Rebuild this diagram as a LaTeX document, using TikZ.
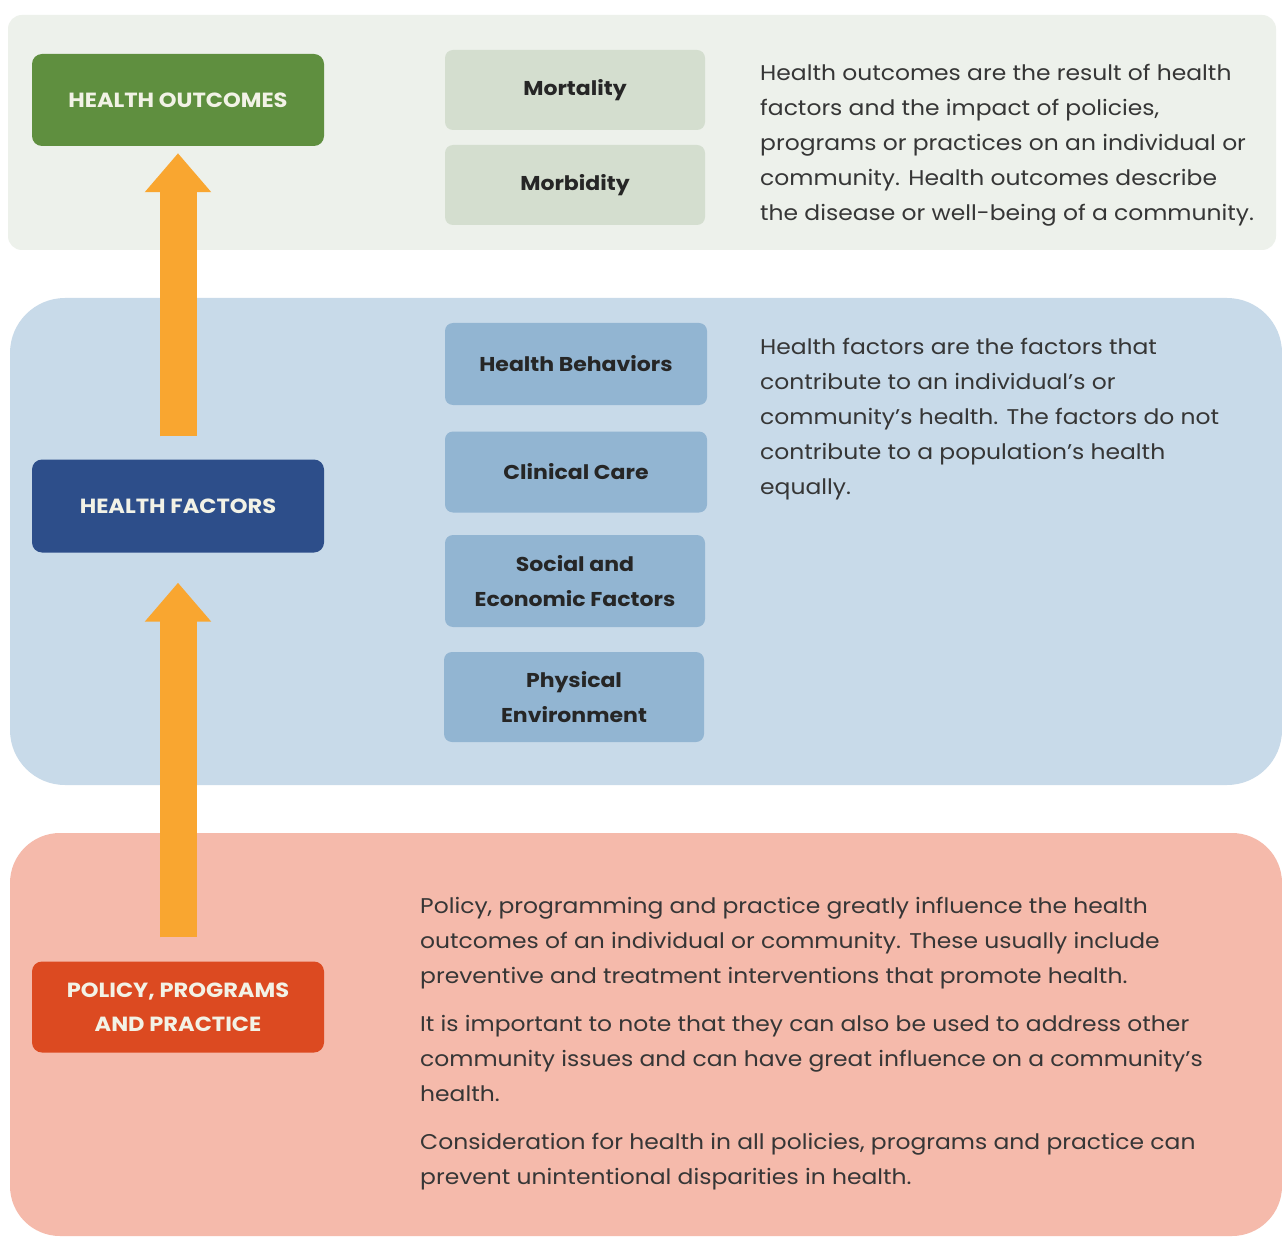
\documentclass[tikz,border=0pt]{standalone}
\usepackage{fontspec}
\setmainfont[FakeStretch=1.1]{Poppins}
\usetikzlibrary{arrows.meta}
\definecolor{topbg}{HTML}{EDF1EB}
\definecolor{hogreen}{HTML}{5F8F3F}
\definecolor{greenbox}{HTML}{D4DECF}
\definecolor{bluebg}{HTML}{C8DAE9}
\definecolor{hfblue}{HTML}{2D4E8A}
\definecolor{bluebox}{HTML}{92B5D2}
\definecolor{pinkbg}{HTML}{F5BAAB}
\definecolor{ppred}{HTML}{DC4A21}
\definecolor{arrorange}{HTML}{F9A630}
\definecolor{bodytext}{HTML}{363636}
\definecolor{titletext}{HTML}{F2F2E6}
\tikzset{
  titlebox/.style={rounded corners=10pt, minimum width=292pt, align=center,
    text=titletext, font=\fontsize{20.5}{34}\selectfont\bfseries, inner sep=0pt},
  itembox/.style={rounded corners=8pt, minimum width=260pt, align=center,
    text=black!85, font=\fontsize{20}{35}\selectfont\bfseries, inner sep=0pt},
  bodynode/.style={anchor=base west, inner sep=0pt, text=bodytext,
    font=\fontsize{21.3}{35}\selectfont},
  bigarrow/.style={draw=arrorange, line width=37pt,
    -{Triangle[length=39pt,width=64pt]}}
}
\begin{document}
\begin{tikzpicture}[x=1pt,y=-1pt]
\useasboundingbox[fill=white] (0,0) rectangle (1282,1238);
% panels
\fill[topbg, rounded corners=14pt] (8,15) rectangle (1276,250);
\fill[bluebg, rounded corners=55pt] (10,298) rectangle (1282,785);
\fill[pinkbg, rounded corners=50pt] (10,833) rectangle (1282,1236);
% title boxes
\node[titlebox, fill=hogreen, minimum height=92pt] (ho) at (178,100) {HEALTH OUTCOMES};
\node[titlebox, fill=hfblue, minimum height=93pt] (hf) at (178,506) {HEALTH FACTORS};
\node[titlebox, fill=ppred, minimum height=91pt] (pp) at (178,1007) {POLICY, PROGRAMS\\AND PRACTICE};
% item boxes
\node[itembox, fill=greenbox, minimum height=80pt] (mort) at (575,90) {Mortality};
\node[itembox, fill=greenbox, minimum height=80pt] (morb) at (575,185) {Morbidity};
\node[itembox, fill=bluebox, minimum width=262pt, minimum height=82pt] (hb) at (576,364) {Health Behaviors};
\node[itembox, fill=bluebox, minimum width=262pt, minimum height=81pt] (cc) at (576,472) {Clinical Care};
\node[itembox, fill=bluebox, minimum height=92pt] (se) at (575,581) {Social and\\Economic Factors};
\node[itembox, fill=bluebox, minimum height=90pt] (pe) at (574,697) {Physical\\Environment};
% arrows
\draw[bigarrow] ([yshift=23pt]hf.north) -- ([yshift=-7pt]ho.south);
\draw[bigarrow] ([yshift=24pt]pp.north) -- ([yshift=-30pt]hf.south);
% body texts
\node[bodynode] (t1) at (760,81) {\parbox[t]{520pt}{\raggedright
Health outcomes are the result of health\\
factors and the impact of policies,\\
programs or practices on an individual or\\
community. Health outcomes describe\\
the disease or well-being of a community.}};
\node[bodynode] (t2) at (760,355) {\parbox[t]{520pt}{\raggedright
Health factors are the factors that\\
contribute to an individual’s or\\
community’s health. The factors do not\\
contribute to a population’s health\\
equally.}};
\node[bodynode] (t3) at (420,913) {\parbox[t]{850pt}{\raggedright
Policy, programming and practice greatly influence the health\\
outcomes of an individual or community. These usually include\\
preventive and treatment interventions that promote health.\par
\vspace{13pt}
It is important to note that they can also be used to address other\\
community issues and can have great influence on a community’s\\
health.\par
\vspace{13pt}
Consideration for health in all policies, programs and practice can\\
prevent unintentional disparities in health.}};
\end{tikzpicture}
\end{document}
